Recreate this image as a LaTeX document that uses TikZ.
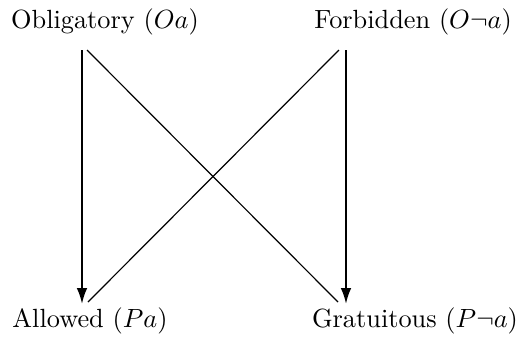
\documentclass[tikz,border=0pt]{standalone}
\usetikzlibrary{arrows.meta}
\begin{document}
\begin{tikzpicture}[x=0.38pt,y=-0.38pt,
  lbl/.style={anchor=base,inner sep=0pt},
  arr/.style={line width=0.8pt,-{Latex[length=6pt,width=4pt]}},
  diag/.style={line width=0.45pt}]
\useasboundingbox (0,0) rectangle (525,340);
\node[lbl] (ob) at (105,28) {Obligatory ($Oa$)};
\node[lbl] (fo) at (413,28) {Forbidden ($O\neg a$)};
\node[lbl] (al) at (90,327) {Allowed ($Pa$)};
\node[lbl] (gr) at (415,327) {Gratuitous ($P\neg a$)};
\coordinate (obv) at (82,50);
\coordinate (obd) at (87,50);
\coordinate (fov) at (346,50);
\coordinate (fod) at (339,50);
\coordinate (alv) at (82,304);
\coordinate (ald) at (88,302);
\coordinate (grv) at (346,304);
\coordinate (grd) at (338,302);
\draw[arr] (obv) -- (alv);
\draw[arr] (fov) -- (grv);
\draw[diag] (obd) -- (grd);
\draw[diag] (fod) -- (ald);
\end{tikzpicture}
\end{document}
